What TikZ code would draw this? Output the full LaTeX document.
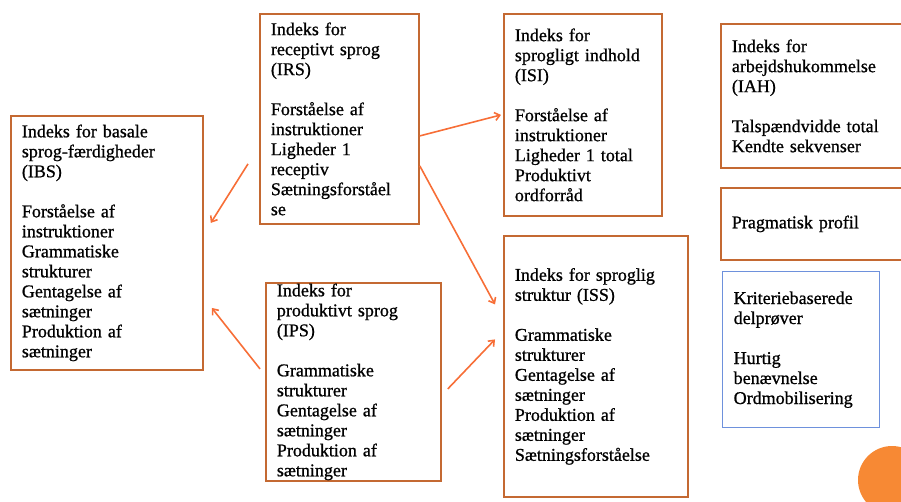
\documentclass[tikz,border=0pt]{standalone}
\usepackage{fontspec}
\setmainfont{Liberation Serif}[FakeBold=0.9]
\usetikzlibrary{arrows.meta}
\definecolor{boxbrown}{RGB}{196,105,50}
\definecolor{arrorange}{RGB}{247,110,55}
\definecolor{boxblue}{RGB}{110,145,220}
\definecolor{dotorange}{RGB}{247,137,52}
\begin{document}
\begin{tikzpicture}[x=1pt, y=-1pt, >={Straight Barb[length=5pt,width=8pt]},
    idx/.style={draw=boxbrown, line width=1.8pt, anchor=north west, align=left,
        inner xsep=11pt, inner ysep=0pt, font=\fontsize{18}{20}\selectfont},
    arr/.style={->, draw=arrorange, line width=1.6pt}]
    \useasboundingbox (0,0) rectangle (901,501);
    % index boxes
    \node[idx, text width=170pt, minimum height=254pt] (ibs) at (10,115)
        {Indeks for basale\\ sprog-færdigheder\\ (IBS)\\[20pt] Forståelse af\\ instruktioner\\ Grammatiske\\ strukturer\\ Gentagelse af\\ sætninger\\ Produktion af\\ sætninger};
    \node[idx, text width=137pt, minimum height=210pt] (irs) at (259,13)
        {Indeks for\\ receptivt sprog\\ (IRS)\\[20pt] Forståelse af\\ instruktioner\\ Ligheder 1\\ receptiv\\ Sætningsforståel\\ se};
    \node[idx, text width=153pt, minimum height=198pt] (ips) at (265,282)
        {Indeks for\\ produktivt sprog\\ (IPS)\\[20pt] Grammatiske\\ strukturer\\ Gentagelse af\\ sætninger\\ Produktion af\\ sætninger};
    \node[idx, text width=136pt, minimum height=202pt] (isi) at (503,13)
        {Indeks for\\ sprogligt indhold\\ (ISI)\\[20pt] Forståelse af\\ instruktioner\\ Ligheder 1 total\\ Produktivt\\ ordforråd};
    \node[idx, text width=162pt, minimum height=261pt] (iss) at (503,235)
        {Indeks for sproglig\\ struktur (ISS)\\[20pt] Grammatiske\\ strukturer\\ Gentagelse af\\ sætninger\\ Produktion af\\ sætninger\\ Sætningsforståelse};
    \node[idx, text width=168pt, minimum height=144pt] (iah) at (720,23)
        {Indeks for\\ arbejdshukommelse\\ (IAH)\\[20pt] Talspændvidde total\\ Kendte sekvenser};
    \node[idx, text width=168pt, minimum height=72pt] (prag) at (720,187)
        {Pragmatisk profil};
    \node[idx, draw=boxblue, line width=1.4pt, text width=135pt, minimum height=156pt] (krit) at (722,271)
        {Kriteriebaserede\\ delprøver\\[20pt] Hurtig\\ benævnelse\\ Ordmobilisering};
    % arrows
    \draw[arr] ([shift={(-11pt,-45pt)}]irs.west) -- ([shift={(7pt,20pt)}]ibs.east);
    \draw[arr] ([shift={(-5pt,13pt)}]ips.west) -- ([shift={(8pt,-65pt)}]ibs.east);
    \draw[arr] ([yshift=-17pt]irs.east) -- ([xshift=-2pt]isi.west);
    \draw[arr] ([yshift=-47pt]irs.east) -- ([shift={(-8pt,62pt)}]iss.west);
    \draw[arr] ([shift={(6pt,-7pt)}]ips.east) -- ([shift={(-8pt,27pt)}]iss.west);
    \fill[dotorange] (892,480) circle[radius=34pt];
\end{tikzpicture}
\end{document}
